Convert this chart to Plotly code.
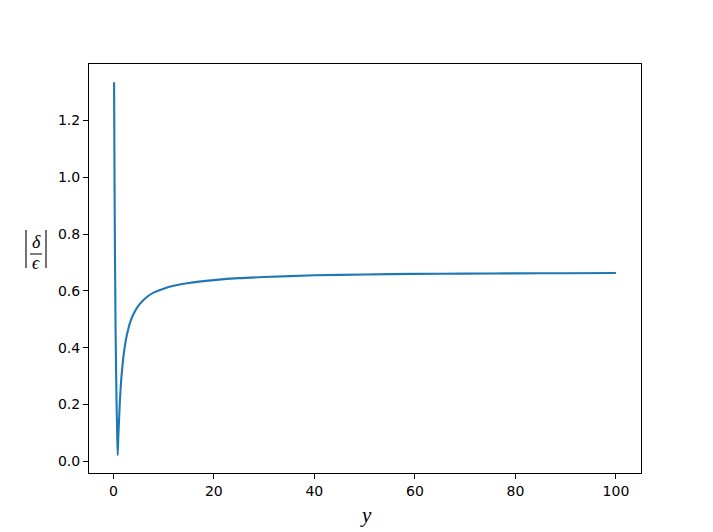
import plotly.graph_objects as go

# Data
y_values = [0.15, 0.25, 0.35, 0.45, 0.55, 0.65, 0.75, 0.87,
            1.0, 1.15, 1.3, 1.5, 1.75, 2.0, 2.5, 3.0, 3.5, 4.0, 5.0, 6.0, 7.0, 8.0,
            10, 12, 15, 20, 25, 30, 40, 50, 60, 70, 80, 90, 100]
ratio_values = [1.335, 0.95, 0.68, 0.46, 0.32, 0.20, 0.11, 0.022,
                0.09, 0.15, 0.21, 0.27, 0.325, 0.367, 0.428, 0.468, 0.497, 0.518, 0.548, 0.568, 0.583, 0.594,
                0.608, 0.618, 0.628, 0.638, 0.645, 0.649, 0.655, 0.658, 0.660, 0.661, 0.662, 0.6625, 0.663]

x_ticks = [0, 20, 40, 60, 80, 100]
y_ticks = [0.0, 0.2, 0.4, 0.6, 0.8, 1.0, 1.2]

W, H = 713, 532
L, R, T, B = 89, 72, 64, 59
pw, ph = W - L - R, H - T - B

def px(xp):
    return (xp - L) / pw

def py(yp):
    return (H - B - yp) / ph

fig = go.Figure()
fig.add_trace(go.Scatter(x=y_values, y=ratio_values, mode="lines", line_shape="spline",
                         line=dict(color="#1f77b4", width=2.1, smoothing=0.6), showlegend=False))

axis_common = dict(showgrid=False, zeroline=False, showline=True, linecolor="black",
                   linewidth=1.1, mirror=True, ticks="outside", ticklen=5, tickwidth=1.1,
                   tickcolor="black", tickfont=dict(family="DejaVu Sans", size=14, color="black"))

fig.update_xaxes(range=[-4.84, 104.99], tickvals=x_ticks, ticktext=[str(v) for v in x_ticks],
                 **axis_common)
fig.update_yaxes(range=[-0.041, 1.399], tickvals=y_ticks, ticktext=[f"{v:.1f}" for v in y_ticks],
                 **axis_common)

serif = "Liberation Serif"
annotations = [
    dict(text="<i>y</i>", x=px(366), y=py(515), xref="paper", yref="paper", showarrow=False,
         font=dict(family=serif, size=21, color="black"), xanchor="center", yanchor="middle"),
    dict(text="<i>δ</i>", x=px(36), y=py(242), xref="paper", yref="paper", showarrow=False,
         font=dict(family=serif, size=18, color="black"), xanchor="center", yanchor="middle"),
    dict(text="<i>ϵ</i>", x=px(36), y=py(263), xref="paper", yref="paper", showarrow=False,
         font=dict(family=serif, size=18, color="black"), xanchor="center", yanchor="middle"),
]

shapes = [
    dict(type="line", xref="paper", yref="paper", x0=px(26), x1=px(26), y0=py(230), y1=py(268),
         line=dict(color="black", width=1.1)),
    dict(type="line", xref="paper", yref="paper", x0=px(46), x1=px(46), y0=py(230), y1=py(268),
         line=dict(color="black", width=1.1)),
    dict(type="line", xref="paper", yref="paper", x0=px(30), x1=px(42), y0=py(254), y1=py(254),
         line=dict(color="black", width=1.0)),
]

fig.update_layout(width=W, height=H, margin=dict(l=L, r=R, t=T, b=B),
                  plot_bgcolor="white", paper_bgcolor="white",
                  annotations=annotations, shapes=shapes)

fig.write_html("out.html", config={"displayModeBar": False},
               post_script="document.body.style.margin='0';document.body.style.overflow='hidden';"
                           "document.documentElement.style.overflow='hidden';")
